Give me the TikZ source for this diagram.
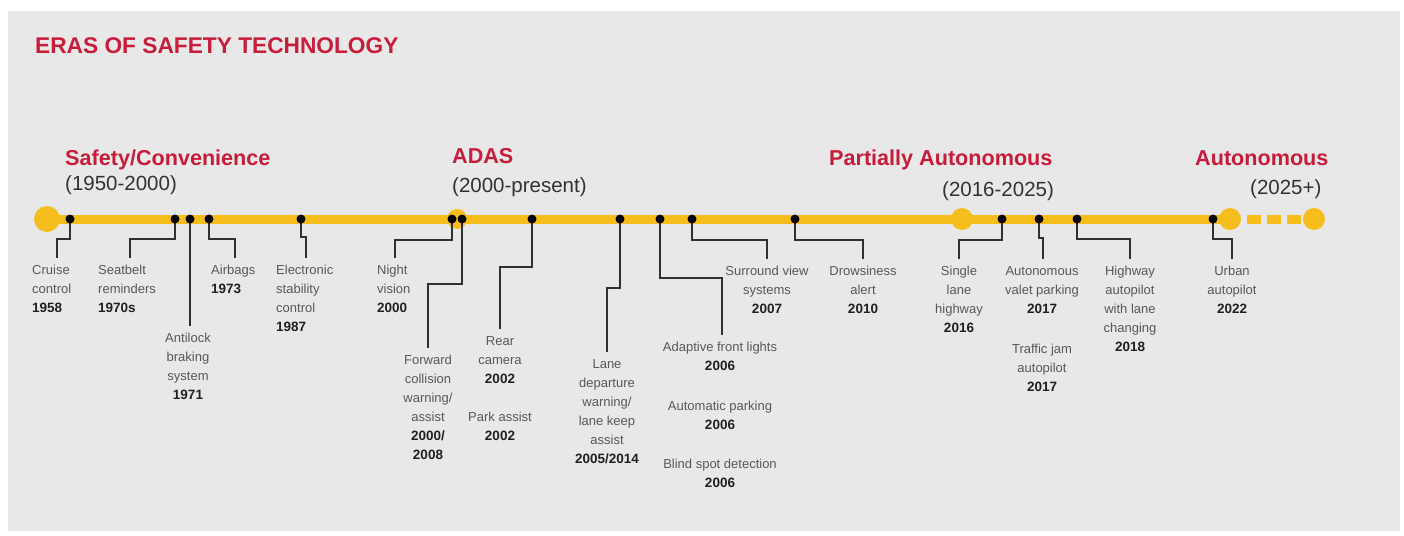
\documentclass[tikz,border=0pt]{standalone}
\usepackage{fontspec}
\setmainfont{Liberation Sans}

\definecolor{bgray}{RGB}{232,232,232}
\definecolor{tyellow}{RGB}{246,190,28}
\definecolor{ered}{RGB}{200,28,60}
\definecolor{conncol}{RGB}{48,48,48}
\definecolor{labgray}{RGB}{88,88,88}
\definecolor{yeardark}{RGB}{32,32,32}
\definecolor{rangecol}{RGB}{50,50,50}

\pgfdeclarelayer{canvas}
\pgfdeclarelayer{under}
\pgfsetlayers{canvas,under,main}

% first-line strut so every label's top edge sits at a fixed height
\newcommand\tlstrut{\rule{0pt}{10pt}}
% bold year line
\newcommand\yr[1]{{\fontsize{13.5}{19}\selectfont\bfseries\color{yeardark}#1}}

\begin{document}
\begin{tikzpicture}[x=1pt,y=-1pt,
  heading/.style={font=\fontsize{22.7}{26}\selectfont\bfseries, text=ered, inner sep=0, anchor=base west},
  era/.style={font=\fontsize{21.6}{24}\selectfont\bfseries, text=ered, inner sep=0, anchor=base west},
  eradate/.style={font=\fontsize{20.5}{24}\selectfont, text=rangecol, inner sep=0, anchor=base west},
  hub/.style={circle, fill=tyellow, inner sep=0, minimum size=#1},
  dot/.style={circle, fill=black, inner sep=0, minimum size=9pt},
  conn/.style={draw=conncol, line width=2.4pt, shorten >=7pt},
  lab/.style={inner sep=0, font=\fontsize{13}{19}\selectfont, text=labgray,
              execute at begin node=\tlstrut},
  labc/.style={lab, align=center, anchor=north},
  labl/.style={lab, align=left, anchor=north west}]

\useasboundingbox (0,0) rectangle (1404,535);
\begin{pgfonlayer}{canvas}
  \fill[white] (0,0) rectangle (1404,535);
  \fill[bgray] (8,11) rectangle (1400,531);
\end{pgfonlayer}

% title and era headings
\node[heading] (title) at (35,53) {ERAS OF SAFETY TECHNOLOGY};

\node[era]     (e1)  at (65,165)  {Safety/Convenience};
\node[eradate] (e1r) at (65,190)  {(1950-2000)};
\node[era]     (e2)  at (452,163) {ADAS};
\node[eradate] (e2r) at (452,192) {(2000-present)};
\node[era]     (e3)  at (829,165) {Partially Autonomous};
\node[eradate] (e3r) at (942,196) {(2016-2025)};
\node[era]     (e4)  at (1195,165) {Autonomous};
\node[eradate] (e4r) at (1250,194) {(2025+)};

% milestone dots on the timeline
\node[dot] (d1)  at (70,219)   {};
\node[dot] (d2)  at (175,219)  {};
\node[dot] (d3)  at (190,219)  {};
\node[dot] (d4)  at (209,219)  {};
\node[dot] (d5)  at (301,219)  {};
\node[dot] (d6)  at (452,219)  {};
\node[dot] (d7)  at (462,219)  {};
\node[dot] (d8)  at (532,219)  {};
\node[dot] (d9)  at (620,219)  {};
\node[dot] (d10) at (660,219)  {};
\node[dot] (d11) at (692,219)  {};
\node[dot] (d12) at (795,219)  {};
\node[dot] (d13) at (1002,219) {};
\node[dot] (d14) at (1039,219) {};
\node[dot] (d15) at (1077,219) {};
\node[dot] (d16) at (1213,219) {};

% milestone labels
\node[labl] (l1)  at (32,265)  {Cruise\\control\\\yr{1958}};
\node[labl] (l2)  at (98,265)  {Seatbelt\\reminders\\\yr{1970s}};
\node[labc] (l3)  at (188,333) {Antilock\\braking\\system\\\yr{1971}};
\node[labl] (l4)  at (211,265) {Airbags\\\yr{1973}};
\node[labl] (l5)  at (276,265) {Electronic\\stability\\control\\\yr{1987}};
\node[labl] (l6)  at (377,265) {Night\\vision\\\yr{2000}};
\node[labc] (l7)  at (428,355) {Forward\\collision\\warning/\\assist\\\yr{2000/}\\\yr{2008}};
\node[labc] (l8)  at (500,336) {Rear\\camera\\\yr{2002}\\[19pt]Park assist\\\yr{2002}};
\node[labc] (l9)  at (607,359) {Lane\\departure\\warning/\\lane keep\\assist\\\yr{2005/2014}};
\node[labc] (l10) at (720,342) {Adaptive front lights\\\yr{2006}\\[21pt]Automatic parking\\\yr{2006}\\[20pt]Blind spot detection\\\yr{2006}};
\node[labc] (l11) at (767,266) {Surround view\\systems\\\yr{2007}};
\node[labc] (l12) at (863,266) {Drowsiness\\alert\\\yr{2010}};
\node[labc] (l13) at (959,266) {Single\\lane\\highway\\\yr{2016}};
\node[labc] (l14) at (1042,266) {Autonomous\\valet parking\\\yr{2017}\\[21pt]Traffic jam\\autopilot\\\yr{2017}};
\node[labc] (l15) at (1130,266) {Highway\\autopilot\\with lane\\changing\\\yr{2018}};
\node[labc] (l16) at (1232,266) {Urban\\autopilot\\\yr{2022}};

% elbow points of the leader lines
\coordinate (k1)  at (57,239);
\coordinate (k2)  at (130,239);
\coordinate (k4)  at (235,239);
\coordinate (k5)  at (306,237);
\coordinate (k6)  at (395,240);
\coordinate (k7)  at (428,284);
\coordinate (k8)  at (500,267);
\coordinate (k9)  at (607,288);
\coordinate (k10) at (722,278);
\coordinate (k11) at (767,240);
\coordinate (k12) at (863,240);
\coordinate (k13) at (959,240);
\coordinate (k14) at (1043,238);
\coordinate (k15) at (1130,239);
\coordinate (k16) at (1232,239);

\begin{pgfonlayer}{under}
  % era hubs and the yellow timeline
  \node[hub=26pt] (h0) at (47,219)   {};
  \node[hub=20pt] (h1) at (457,219)  {};
  \node[hub=22pt] (h2) at (962,219)  {};
  \node[hub=22pt] (h3) at (1230,219) {};
  \node[hub=22pt] (h4) at (1314,219) {};
  \draw[tyellow, line width=9pt] (h0.center) -- (h3.center);
  \draw[tyellow, line width=9pt, dash pattern=on 14pt off 6pt, dash phase=14pt] (h3.east) -- (h4.west);

  % leader lines from dots to labels
  \draw[conn] (d1.center)  |- (k1)  -- (k1 |- l1.north);
  \draw[conn] (d2.center)  |- (k2)  -- (k2 |- l2.north);
  \draw[conn] (d3.center)  -- (d3.center |- l3.north);
  \draw[conn] (d4.center)  |- (k4)  -- (k4 |- l4.north);
  \draw[conn] (d5.center)  |- (k5)  -- (k5 |- l5.north);
  \draw[conn] (d6.center)  |- (k6)  -- (k6 |- l6.north);
  \draw[conn] (d7.center)  |- (k7)  -- (k7 |- l7.north);
  \draw[conn] (d8.center)  |- (k8)  -- (k8 |- l8.north);
  \draw[conn] (d9.center)  |- (k9)  -- (k9 |- l9.north);
  \draw[conn] (d10.center) |- (k10) -- (k10 |- l10.north);
  \draw[conn] (d11.center) |- (k11) -- (k11 |- l11.north);
  \draw[conn] (d12.center) |- (k12) -- (k12 |- l12.north);
  \draw[conn] (d13.center) |- (k13) -- (k13 |- l13.north);
  \draw[conn] (d14.center) |- (k14) -- (k14 |- l14.north);
  \draw[conn] (d15.center) |- (k15) -- (k15 |- l15.north);
  \draw[conn] (d16.center) |- (k16) -- (k16 |- l16.north);
\end{pgfonlayer}
\end{tikzpicture}
\end{document}
